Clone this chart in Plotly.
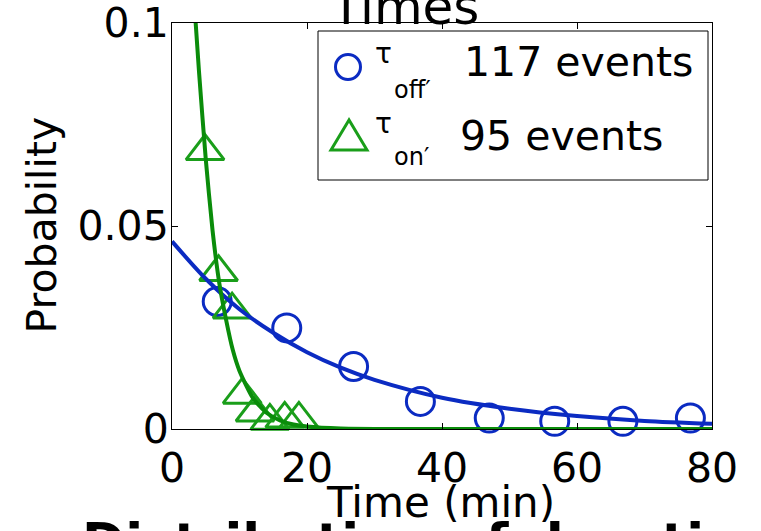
import plotly.graph_objects as go

# ---------------- data ----------------
off_x = [6.7, 17.0, 26.9, 36.8, 47.0, 56.7, 66.8, 76.8]
off_y = [0.0314, 0.0249, 0.0154, 0.0068, 0.0027, 0.0019, 0.0019, 0.0027]

on_x = [4.9, 6.9, 8.9, 10.4, 12.3, 14.5, 16.7, 18.8]
on_y = [0.0684, 0.0386, 0.0294, 0.0084, 0.0040, 0.0020, 0.0025, 0.0025]

off_fit_x = [0, 5, 10, 15, 20, 25, 30, 40, 50, 60, 70, 80]
off_fit_y = [0.0462, 0.0370, 0.0295, 0.0237, 0.0189, 0.0151, 0.0121,
             0.0077, 0.0050, 0.0032, 0.0020, 0.0013]

on_fit_x = [3.3, 4, 5, 6, 7, 8, 9, 10, 12, 14, 16, 18, 20, 25, 30, 80]
on_fit_y = [0.105, 0.088, 0.0665, 0.049, 0.036, 0.027, 0.0195, 0.0143,
            0.0076, 0.0040, 0.0021, 0.0011, 0.0006, 0.0001, 0.0, 0.0]

x_ticks = [0, 20, 40, 60, 80]
y_ticks = [0, 0.05, 0.1]
y_tick_text = ["0", "0.05", "0.1"]

off_label = ["\u03c4", "off\u2032", "117 events"]
on_label = ["\u03c4", "on\u2032", "95 events"]

BLUE = "#0b2bc2"
GREEN_M = "#1a9e1a"
GREEN_L = "#0a8c0a"
FONT = "DejaVu Sans"

# ---------------- layout geometry ----------------
W, H = 761, 531
L, R, T, B = 172, 49, 23, 102
PW, PH = W - L - R, H - T - B


def px(x):
    return (x - L) / PW


def py(y):
    return (H - B - y) / PH


fig = go.Figure()

fig.add_trace(go.Scatter(
    x=off_x, y=off_y, mode="markers", cliponaxis=False,
    marker=dict(symbol="circle-open", size=28, color=BLUE,
                line=dict(color=BLUE, width=3)),
    showlegend=False))
fig.add_trace(go.Scatter(
    x=on_x, y=on_y, mode="markers", cliponaxis=False,
    marker=dict(symbol="triangle-up-open", size=33, color=GREEN_M,
                line=dict(color=GREEN_M, width=3)),
    showlegend=False))
fig.add_trace(go.Scatter(
    x=off_fit_x, y=off_fit_y, mode="lines",
    line=dict(color=BLUE, width=4, shape="spline", smoothing=0.8),
    showlegend=False))
fig.add_trace(go.Scatter(
    x=on_fit_x, y=on_fit_y, mode="lines",
    line=dict(color=GREEN_L, width=4, shape="spline", smoothing=0.6),
    showlegend=False))

axis_common = dict(
    showline=True, linecolor="black", linewidth=1, mirror="ticks",
    ticks="inside", ticklen=6, tickcolor="black", tickwidth=1,
    showgrid=False, zeroline=False, automargin=False,
    ticklabeloverflow="allow",
    tickfont=dict(family=FONT, size=41, color="black"),
)

fig.update_xaxes(range=[0, 80], tickvals=x_ticks,
                 ticktext=[str(v) for v in x_ticks], ticklabelstandoff=3,
                 **axis_common)
fig.update_yaxes(range=[0, 0.1], tickvals=y_ticks, ticktext=y_tick_text,
                 ticklabelstandoff=-6, **axis_common)

shapes = []
# legend box
shapes.append(dict(type="rect", xref="paper", yref="paper",
                   x0=px(318), x1=px(708), y0=py(180), y1=py(31),
                   line=dict(color="black", width=1), fillcolor="white",
                   layer="above"))
# legend circle symbol
shapes.append(dict(type="circle", xref="paper", yref="paper",
                   x0=px(335.5), x1=px(360.5), y0=py(79.5), y1=py(54.5),
                   line=dict(color=BLUE, width=3), layer="above"))
# legend triangle symbol
tri = "M{},{} L{},{} L{},{} Z".format(px(349), py(120), px(331), py(150),
                                      px(367), py(150))
shapes.append(dict(type="path", xref="paper", yref="paper", path=tri,
                   line=dict(color=GREEN_M, width=3), layer="above"))

ann = []


def text(t, x, y, size, xanchor="left", yanchor="middle", angle=0, bold=False):
    ann.append(dict(text=("<b>%s</b>" % t) if bold else t, xref="paper",
                    yref="paper", x=px(x), y=py(y), xanchor=xanchor,
                    yanchor=yanchor, showarrow=False, textangle=angle,
                    font=dict(family=FONT, size=size, color="black")))


# legend texts
text(off_label[0], 373, 53.5, 28)
text(off_label[1], 392, 89.5, 24)
text(off_label[2], 462, 62, 41)
text(on_label[0], 373, 123, 28)
text(on_label[1], 392, 157, 24)
text(on_label[2], 458, 136, 41)

# axis titles
text("Probability", 41, 225.5, 41, xanchor="center", angle=-90)
text("Time (min)", 440, 502, 42, xanchor="center")

# cropped slide titles
text("Times", 404, 7, 50, xanchor="center")
text("Distribution of durations", 80, 542, 52, bold=True)

fig.update_layout(
    width=W, height=H,
    margin=dict(l=L, r=R, t=T, b=B, pad=0),
    paper_bgcolor="white", plot_bgcolor="white",
    shapes=shapes, annotations=ann,
    font=dict(family=FONT, color="black"),
)

fig.write_html("out.html", config={"displayModeBar": False},
               post_script="document.body.style.margin='0px';")
